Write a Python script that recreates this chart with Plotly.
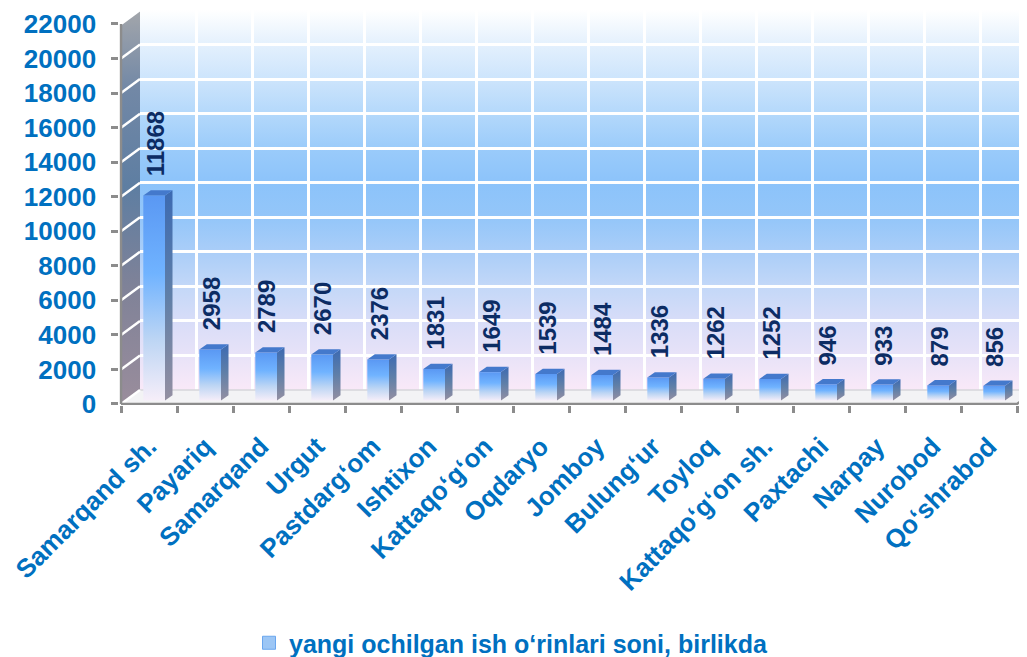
import base64
import plotly.graph_objects as go

# ---------------- data ----------------
categories = ["Samarqand sh.", "Payariq", "Samarqand", "Urgut", "Pastdarg\u2018om",
              "Ishtixon", "Kattaqo\u2018g\u2018on", "Oqdaryo", "Jomboy", "Bulung\u2018ur",
              "Toyloq", "Kattaqo\u2018g\u2018on sh.", "Paxtachi", "Narpay", "Nurobod",
              "Qo\u2018shrabod"]
values = [11868, 2958, 2789, 2670, 2376, 1831, 1649, 1539, 1484, 1336, 1262, 1252,
          946, 933, 879, 856]
y_ticks = list(range(0, 22001, 2000))
y_tick_text = [str(v) for v in y_ticks]
series_name = "yangi ochilgan ish o\u2018rinlari soni, birlikda"

# ---------------- geometry / style ----------------
PAGE_OFF = 8                      # browser body margin
W, H = 1027 - PAGE_OFF, 657 - PAGE_OFF
PX_X = 56.0                       # px per category
PX_Y = 380.0 / 22000.0            # px per unit
U = 1.0 / PX_Y                    # units per px
AX_L, AX_B = 121.0 - PAGE_OFF, 404.0 - PAGE_OFF   # front axis origin (paper px)
WALL_DX, WALL_DY = 19.0, 14.0
FONT = "Arial, Liberation Sans, sans-serif"
BLUE = "#0070c0"
NAVY = "#0c2c64"
GRAY = "#8c8c8c"

n = len(categories)
x_lo, y_lo = -0.53, -60.0
y_hi = 22850.0
front_left_px = AX_L + (x_lo + 0.5) * PX_X
x_hi = x_lo + (W - front_left_px) / PX_X
front_dom_x = [front_left_px / W, 1.0]
front_dom_y = [1 - (AX_B - y_lo * PX_Y) / H, 1 - (AX_B - y_hi * PX_Y) / H]

back_left_px = AX_L + WALL_DX
back_bottom_px = AX_B - WALL_DY
back_top_px = AX_B - 22000 * PX_Y - WALL_DY
back_dom_x = [back_left_px / W, 1.0]
back_dom_y = [1 - back_bottom_px / H, 1 - back_top_px / H]
back_x_hi = -0.5 + (W - back_left_px) / PX_X

dxu, dyu = WALL_DX / PX_X, WALL_DY * U

fig = go.Figure()

# ---- back wall gradient image ----
stops = [(0, "#ffffff"), (0.093, "#e3f0fd"), (0.185, "#cce4fc"), (0.275, "#b3d8fb"),
         (0.367, "#9acbfa"), (0.456, "#8cc3fa"), (0.548, "#94c6f9"), (0.64, "#abcef8"),
         (0.732, "#c4d8f8"), (0.824, "#d9ddf8"), (0.916, "#e9e3f8"), (1, "#f9e9f8")]
svg = ("<svg xmlns='http://www.w3.org/2000/svg' width='100' height='100' "
       "preserveAspectRatio='none'><defs><linearGradient id='g' x1='0' y1='0' x2='0' y2='1'>"
       + "".join(f"<stop offset='{o}' stop-color='{c}'/>" for o, c in stops)
       + "</linearGradient></defs><rect width='100' height='100' fill='url(#g)'/></svg>")
src = "data:image/svg+xml;base64," + base64.b64encode(svg.encode()).decode()
fig.add_layout_image(dict(source=src, xref="paper", yref="paper",
                          x=back_dom_x[0], y=back_dom_y[1],
                          sizex=back_dom_x[1] - back_dom_x[0],
                          sizey=back_dom_y[1] - back_dom_y[0],
                          sizing="stretch", layer="below", xanchor="left", yanchor="top"))

# dummy trace on back subplot so its axes exist
fig.add_trace(go.Scatter(x=[None], y=[None], xaxis="x", yaxis="y", showlegend=False,
                         hoverinfo="skip"))

# ---- floor ----
fig.add_trace(go.Scatter(
    x=[-0.5, 15.5, 15.5 + dxu, -0.5 + dxu, -0.5],
    y=[0, 0, dyu, dyu, 0], xaxis="x2", yaxis="y2",
    fill="toself", fillcolor="#f3f3f5", mode="lines",
    line=dict(color="#d6d6da", width=1.5), showlegend=False, hoverinfo="skip"))

# ---- side wall ----
fig.add_trace(go.Scatter(
    x=[-0.5, -0.5, -0.5 + dxu, -0.5 + dxu, -0.5],
    y=[0, 22000, 22000 + dyu, dyu, 0], xaxis="x2", yaxis="y2",
    fill="toself", mode="lines", line=dict(width=0, color="rgba(0,0,0,0)"),
    fillgradient=dict(type="vertical",
                      colorscale=[[0, "#9a8d9c"], [0.3, "#7f8298"], [0.55, "#5e7ea2"],
                                  [0.8, "#7288a6"], [1, "#a3a6ab"]]),
    showlegend=False, hoverinfo="skip"))
for v in y_ticks:
    fig.add_trace(go.Scatter(x=[-0.5, -0.5 + dxu], y=[v, v + dyu], xaxis="x2", yaxis="y2",
                             mode="lines", line=dict(color="white", width=2.5),
                             showlegend=False, hoverinfo="skip"))

# ---- axis lines ----
fig.add_trace(go.Scatter(x=[-0.5, -0.5], y=[0, 22000], xaxis="x2", yaxis="y2", mode="lines",
                         line=dict(color=GRAY, width=2.5), showlegend=False, hoverinfo="skip"))
fig.add_trace(go.Scatter(x=[-0.5, 15.5, 15.5 + dxu * 0.55], y=[0, 0, dyu * 0.55],
                         xaxis="x2", yaxis="y2", mode="lines",
                         line=dict(color=GRAY, width=2.5), showlegend=False, hoverinfo="skip"))

# ---- 3D bars ----
base = 3.4 * U
fl_off, fr_off = -5.7 / PX_X, 16.0 / PX_X
sdx, sdy = 7.5 / PX_X, 5.3 * U
for i, v in enumerate(values):
    fl, fr, top = i + fl_off, i + fr_off, base + v
    # side face
    fig.add_trace(go.Scatter(
        x=[fr, fr + sdx, fr + sdx, fr, fr], y=[base, base + sdy, top + sdy, top, base],
        xaxis="x2", yaxis="y2", fill="toself", mode="lines", line=dict(width=0),
        fillgradient=dict(type="vertical", colorscale=[[0, "#948fa2"], [0.5, "#5f7fa8"],
                                                       [1, "#3c6ab2"]]),
        showlegend=False, hoverinfo="skip"))
    # front face
    fig.add_trace(go.Scatter(
        x=[fl, fr, fr, fl, fl], y=[base, base, top, top, base],
        xaxis="x2", yaxis="y2", fill="toself", mode="lines", line=dict(width=0),
        fillgradient=dict(type="vertical", colorscale=[[0, "#f6eef9"], [0.3, "#bcd5f4"],
                                                       [0.62, "#70b3ff"], [1, "#5a98f3"]]),
        showlegend=False, hoverinfo="skip"))
    # top face
    fig.add_trace(go.Scatter(
        x=[fl, fr, fr + sdx, fl + sdx, fl], y=[top, top, top + sdy, top + sdy, top],
        xaxis="x2", yaxis="y2", fill="toself", fillcolor="#4479cc", mode="lines",
        line=dict(width=0), showlegend=False, hoverinfo="skip"))
    fig.add_annotation(x=i + (fl_off + fr_off) / 2 + 1 / PX_X, y=top, xref="x2", yref="y2",
                       text=str(v), textangle=-90, showarrow=False, yanchor="bottom",
                       xanchor="center", yshift=17,
                       font=dict(family=FONT, size=24, color=NAVY, weight="bold"))

# legend entry
fig.add_trace(go.Scatter(x=[None], y=[None], xaxis="x2", yaxis="y2", mode="markers",
                         name=series_name,
                         marker=dict(symbol="square", size=13, color="#9cc6f5",
                                     line=dict(color="#6aa6ee", width=1))))

fig.update_layout(
    width=W, height=H, margin=dict(l=0, r=0, t=0, b=0, autoexpand=False),
    paper_bgcolor="white", plot_bgcolor="rgba(0,0,0,0)",
    font=dict(family=FONT),
    showlegend=True,
    legend=dict(orientation="h", x=(511.0 - PAGE_OFF) / W, xanchor="center",
                y=1 - (643.0 - PAGE_OFF) / H, yanchor="middle",
                font=dict(family=FONT, size=25, color=BLUE, weight="bold"),
                bgcolor="rgba(0,0,0,0)", itemwidth=30),
    xaxis=dict(domain=back_dom_x, range=[-0.5, back_x_hi], anchor="y", automargin=False,
               tickvals=[k - 0.5 for k in range(n + 1)], showticklabels=False,
               showgrid=True, gridcolor="white", gridwidth=2.5, zeroline=False,
               showline=False, ticks=""),
    yaxis=dict(domain=back_dom_y, range=[0, 22000], anchor="x", automargin=False,
               tickvals=y_ticks, showticklabels=False, showgrid=True,
               gridcolor="white", gridwidth=2.5, zeroline=False, showline=False, ticks=""),
    xaxis2=dict(domain=front_dom_x, range=[x_lo, x_hi], anchor="y2", automargin=False,
                tickvals=list(range(n)), ticktext=categories, tickangle=-45,
                ticks="", showgrid=False, zeroline=False, showline=False,
                ticklabelstandoff=20,
                tickfont=dict(family=FONT, size=26, color=BLUE, weight="bold"),
                minor=dict(tickvals=[k - 0.5 for k in range(n + 1)], ticks="outside",
                           ticklen=7, tickwidth=2.5, tickcolor=GRAY, showgrid=False)),
    yaxis2=dict(domain=front_dom_y, range=[y_lo, y_hi], anchor="x2", automargin=False,
                tickvals=y_ticks, ticktext=y_tick_text, ticks="outside", ticklen=7,
                tickwidth=2.5, tickcolor=GRAY, showgrid=False, zeroline=False,
                showline=False, ticklabelstandoff=10,
                tickfont=dict(family=FONT, size=26, color=BLUE, weight="bold")),
)

fig.write_html("out.html")
